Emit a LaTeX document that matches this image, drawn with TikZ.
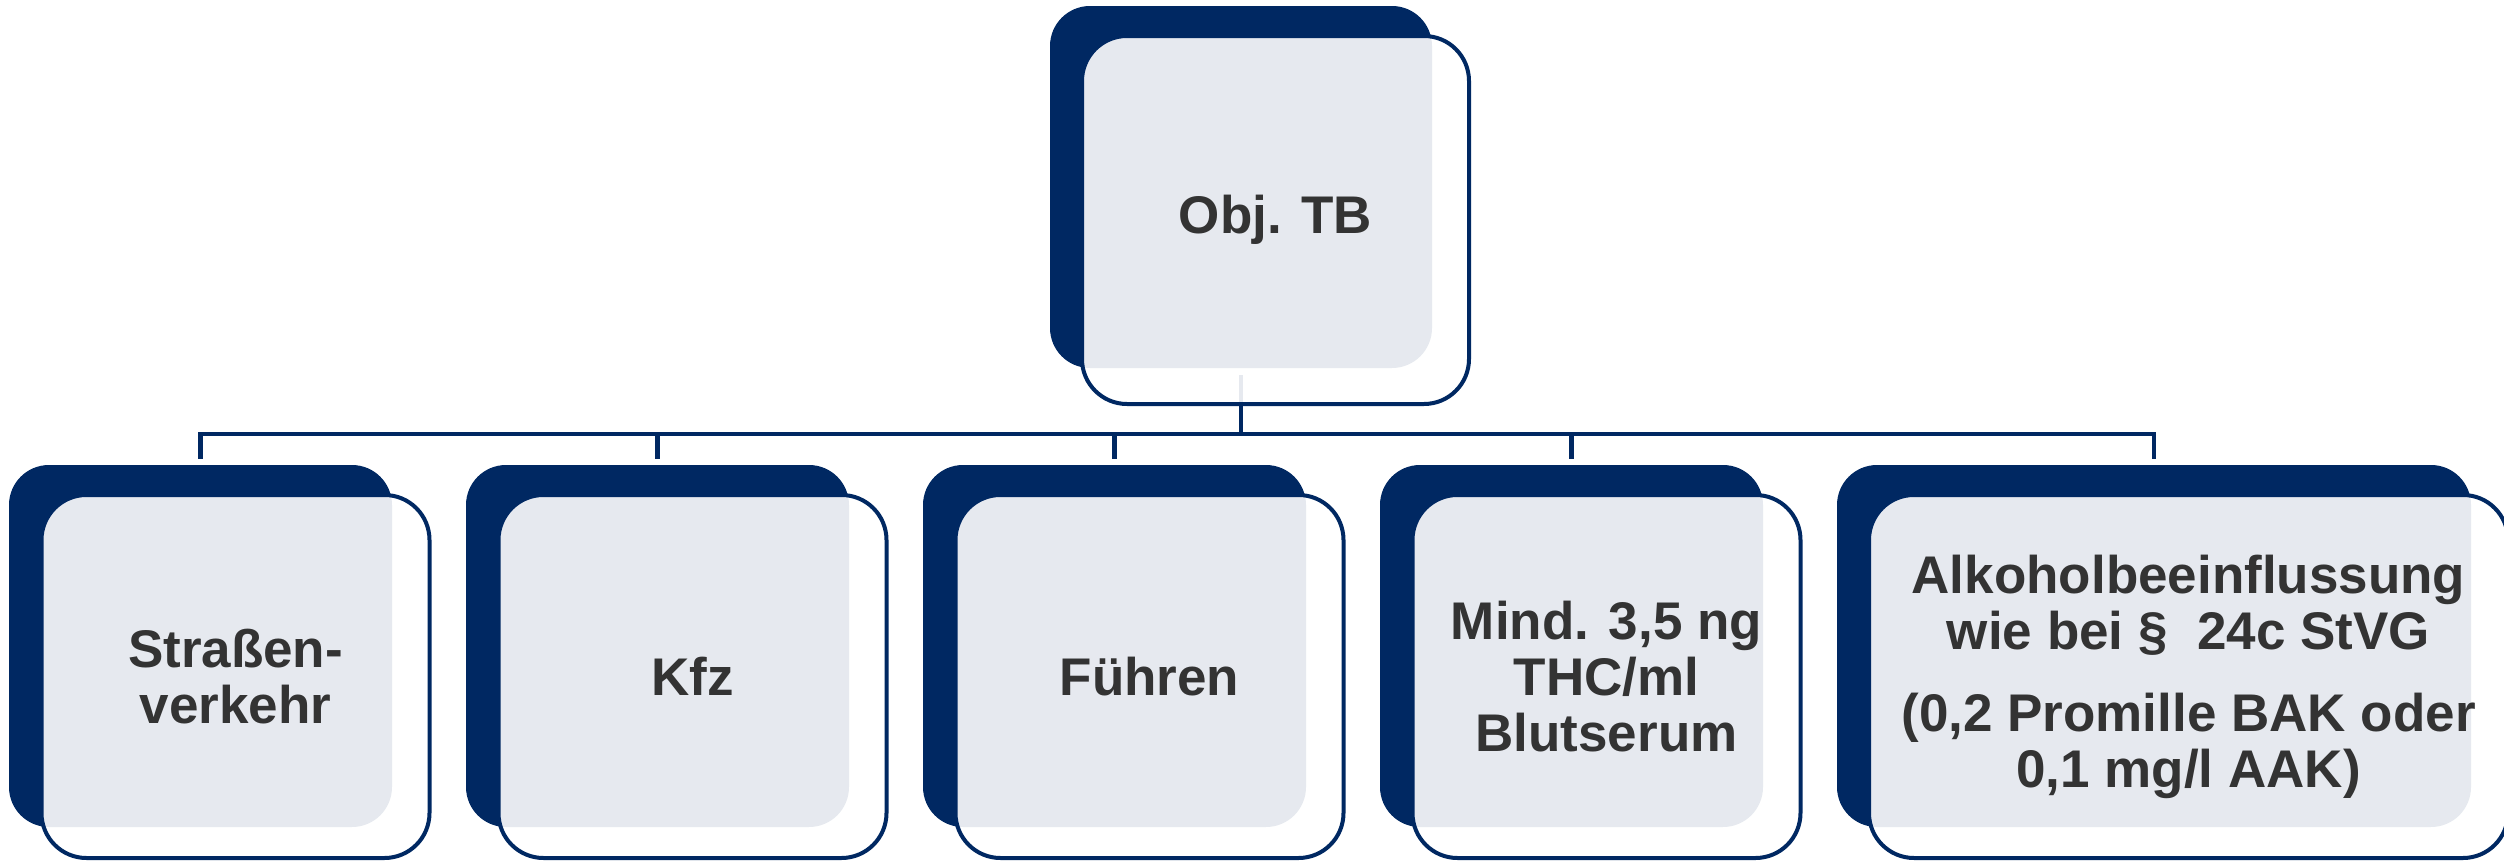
\documentclass[tikz,border=0pt]{standalone}
\usepackage{fontspec}
\setmainfont{Liberation Sans}
\definecolor{navy}{HTML}{002862}
\definecolor{txtgray}{HTML}{333333}
\begin{document}
\begin{tikzpicture}[x=1pt,y=-1pt,
  darkbox/.style={fill=navy, rounded corners=40pt, inner sep=0pt, outer sep=0pt, minimum height=362pt},
  frontbox/.style={draw=navy, line width=4pt, fill=white, fill opacity=0.9, text opacity=1,
    rounded corners=45pt, inner sep=0pt, outer sep=0pt, align=center, text=txtgray,
    font=\fontsize{53pt}{56pt}\selectfont\bfseries},
  conn/.style={draw=navy, line width=4.5pt}]
\useasboundingbox (0,0) rectangle (2504,862);
% back (dark) boxes
\node[darkbox, minimum width=382pt] (dtop) at (1241,187) {};
\node[darkbox, minimum width=383pt] (d1) at (200.5,646) {};
\node[darkbox, minimum width=383pt] (d2) at (657.5,646) {};
\node[darkbox, minimum width=383pt] (d3) at (1114.5,646) {};
\node[darkbox, minimum width=383pt] (d4) at (1571.5,646) {};
\node[darkbox, minimum width=634pt] (d5) at (2154,646) {};
% connectors
\foreach \i in {1,...,5}
  \draw[conn, shorten <=7pt, shorten >=6pt] (dtop.south) -- ++(0,66) -| (d\i.north);
% front boxes with text
\node[frontbox, minimum width=387pt, minimum height=368pt] (ftop) at (1275.5,220) {Obj. TB};
\node[frontbox, minimum width=388pt, minimum height=363pt] (f1) at (235.5,676.5) {Straßen-\\verkehr};
\node[frontbox, minimum width=388pt, minimum height=363pt] (f2) at (692.5,676.5) {Kfz};
\node[frontbox, minimum width=388pt, minimum height=363pt] (f3) at (1149.5,676.5) {Führen};
\node[frontbox, minimum width=388pt, minimum height=363pt] (f4) at (1606.5,676.5) {Mind. 3,5 ng\\THC/ml\\Blutserum};
\node[frontbox, minimum width=639pt, minimum height=363pt] (f5) at (2188.5,676.5)
  {Alkoholbeeinflussung\\wie bei §\ \ 24c StVG\\[26pt](0,2 Promille BAK oder\\0,1 mg/l AAK)};
\end{tikzpicture}
\end{document}
